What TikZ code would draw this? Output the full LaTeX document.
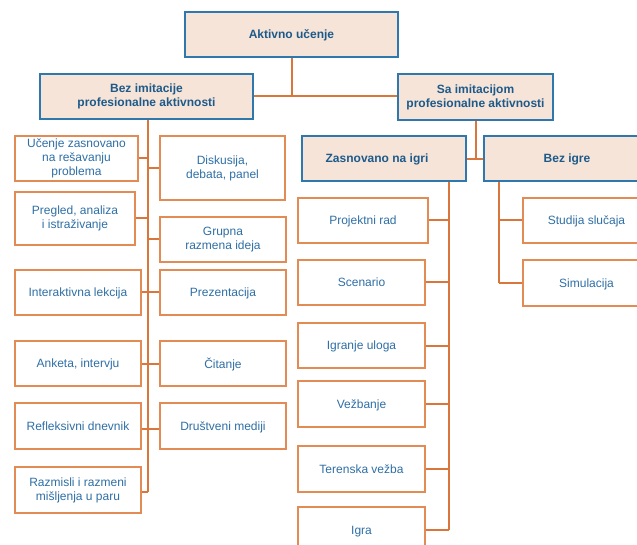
\documentclass[tikz,border=0pt]{standalone}
\usepackage{fontspec}
\setmainfont{Liberation Sans}
\definecolor{peach}{HTML}{F6E4D8}
\definecolor{hblue}{HTML}{2F78AE}
\definecolor{htext}{HTML}{1D5A8A}
\definecolor{ctext}{HTML}{2F6FA5}
\definecolor{obox}{HTML}{E38B55}
\definecolor{oline}{HTML}{D9763B}
\tikzset{
  hdr/.style={draw=hblue, line width=1.5pt, fill=peach, text=htext, font=\fontsize{12}{14}\selectfont\bfseries, align=center, inner sep=0pt, minimum height=45pt},
  child/.style={draw=obox, line width=1.5pt, fill=white, text=ctext, font=\fontsize{12}{14}\selectfont, align=center, inner sep=0pt, minimum height=45pt},
  sl/.style={text depth=0pt},
  conn/.style={draw=oline, line width=2pt}
}
\begin{document}
\begin{tikzpicture}[x=1pt,y=-1pt]
\useasboundingbox (0,0) rectangle (637,545);
% headers
\node[hdr, sl, minimum width=213pt] (akt) at (291.5,34.5) {Aktivno učenje};
\node[hdr, minimum width=213pt] (bez) at (146.5,96.5) {Bez imitacije\\profesionalne aktivnosti};
\node[hdr, minimum width=155pt, minimum height=46pt] (sa) at (475.5,97) {Sa imitacijom\\profesionalne aktivnosti};
\node[hdr, sl, minimum width=164pt] (zas) at (384,158.5) {\hspace*{-14pt}Zasnovano na igri};
\node[hdr, sl, minimum width=166pt] (bigre) at (567,158.5) {Bez igre};
% left column children
\node[child, minimum width=123pt] (u1) at (76.5,158.5) {Učenje zasnovano\\na rešavanju\\problema};
\node[child, minimum width=120pt, minimum height=53pt] (u2) at (75,218.5) {Pregled, analiza\\i istraživanje};
\node[child, sl, minimum width=126pt] (u3) at (78,292.5) {Interaktivna lekcija};
\node[child, sl, minimum width=126pt] (u4) at (78,363.5) {Anketa, intervju};
\node[child, sl, minimum width=126pt, minimum height=46pt] (u5) at (78,426) {Refleksivni dnevnik};
\node[child, minimum width=126pt, minimum height=46pt] (u6) at (78,490) {Razmisli i razmeni\\mišljenja u paru};
\node[child, minimum width=125pt, minimum height=64pt] (d1) at (222.5,168) {Diskusija,\\debata, panel};
\node[child, minimum width=126pt] (d2) at (223,239.5) {Grupna\\razmena ideja};
\node[child, sl, minimum width=126pt] (d3) at (223,292.5) {Prezentacija};
\node[child, sl, minimum width=126pt] (d4) at (223,363.5) {Čitanje};
\node[child, sl, minimum width=126pt, minimum height=46pt] (d5) at (223,426) {Društveni mediji};
% game-based children
\node[child, sl, minimum width=130pt] (p1) at (363,220.5) {Projektni rad};
\node[child, sl, minimum width=127pt] (p2) at (361.5,282.5) {Scenario};
\node[child, sl, minimum width=127pt] (p3) at (361.5,345.5) {Igranje uloga};
\node[child, sl, minimum width=127pt, minimum height=46pt] (p4) at (361.5,404) {Vežbanje};
\node[child, sl, minimum width=127pt, minimum height=46pt] (p5) at (361.5,469) {Terenska vežba};
\node[child, sl, minimum width=127pt, minimum height=46pt] (p6) at (361.5,530) {Igra};
% no-game children
\node[child, sl, minimum width=127pt] (s1) at (586.5,220.5) {Studija slučaja};
\node[child, sl, minimum width=127pt, minimum height=46pt] (s2) at (586.5,283) {Simulacija};
% trunk coordinates
\coordinate (lt) at (148,492);
\coordinate (sj) at (476,159);
\coordinate (zt) at (449,530);
\coordinate (bt) at (499,283);
% connectors
\draw[conn] (akt.south) -- (akt.south |- bez.east);
\draw[conn] (bez.east) -- (bez.east -| sa.west);
\draw[conn] (bez.south -| lt) -- (lt);
\draw[conn] (u1.east) -- (u1.east -| lt);
\draw[conn] (u2.east) -- (u2.east -| lt);
\draw[conn] (u3.east) -- (u3.east -| lt);
\draw[conn] (u4.east) -- (u4.east -| lt);
\draw[conn] ([yshift=-3pt]u5.east) -- ([yshift=-3pt]u5.east -| lt);
\draw[conn] (u6.east |- lt) -- (lt);
\draw[conn] (d1.west) -- (d1.west -| lt);
\draw[conn] (d2.west) -- (d2.west -| lt);
\draw[conn] (d3.west) -- (d3.west -| lt);
\draw[conn] (d4.west) -- (d4.west -| lt);
\draw[conn] ([yshift=-3pt]d5.west) -- ([yshift=-3pt]d5.west -| lt);
\draw[conn] (sa.south) -- (sa.south |- sj);
\draw[conn] (zas.east |- sj) -- (bigre.west |- sj);
\draw[conn] (zas.south -| zt) -- (zt);
\draw[conn] (p1.east) -- (p1.east -| zt);
\draw[conn] (p2.east) -- (p2.east -| zt);
\draw[conn] (p3.east) -- (p3.east -| zt);
\draw[conn] (p4.east) -- (p4.east -| zt);
\draw[conn] (p5.east) -- (p5.east -| zt);
\draw[conn] (p6.east) -- (zt);
\draw[conn] (bigre.south -| bt) -- (bt);
\draw[conn] (s1.west) -- (s1.west -| bt);
\draw[conn] (s2.west) -- (bt);
\end{tikzpicture}
\end{document}
